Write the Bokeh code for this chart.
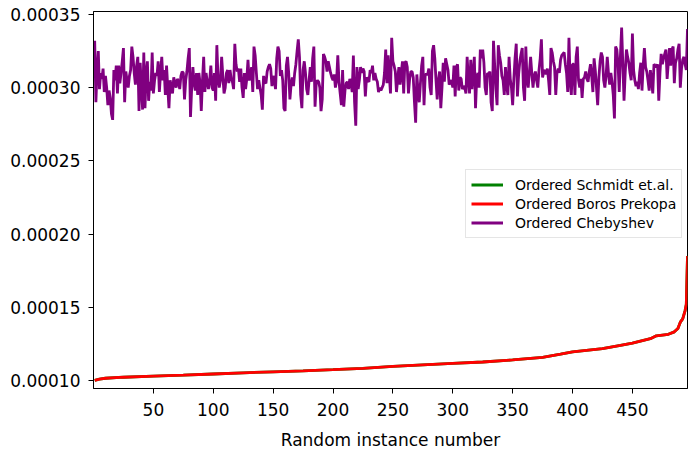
from bokeh.plotting import figure
from bokeh.models import Range1d, FixedTicker, PrintfTickFormatter, Legend, LegendItem
from bokeh.embed import file_html
from bokeh.resources import INLINE

# ---- data ----
# Chebyshev bound per random instance, in units of 1e-6
chebyshev_e6 = [
    332,290,312,325,299,310,306,313,297,308,300,288,298,293,282,278,312,305,315,296,
    315,303,310,318,327,290,311,305,300,308,312,328,321,310,302,315,321,284,317,300,
    285,324,286,310,318,291,304,298,324,296,305,310,308,318,297,310,321,305,312,295,
    315,300,286,305,301,296,307,303,300,306,304,299,308,311,310,292,305,311,320,327,
    280,300,314,303,298,310,295,310,303,284,305,321,297,310,304,299,305,315,300,298,
    310,291,329,306,300,305,321,308,296,300,310,312,303,312,306,304,299,330,316,311,
    313,304,313,300,293,310,299,306,319,305,307,314,297,328,322,310,299,305,300,295,
    285,308,304,303,311,314,316,313,301,308,305,299,320,328,325,308,312,305,286,284,
    315,321,310,292,302,307,301,310,316,325,333,321,295,286,312,318,310,299,295,305,
    314,304,320,328,287,303,305,304,300,284,292,323,321,318,311,318,314,310,307,305,
    309,300,305,322,304,296,288,312,287,298,303,304,299,306,303,297,322,290,274,314,
    299,305,314,310,313,311,294,307,305,304,312,310,315,305,310,306,304,297,300,298,
    300,302,310,326,303,322,308,296,334,318,315,311,297,306,314,302,310,318,296,317,
    318,314,296,306,311,311,307,290,276,309,298,290,303,315,321,288,309,309,309,313,
    300,295,325,329,320,305,292,305,311,286,300,317,304,320,316,312,302,304,305,300,
    315,294,314,316,298,307,306,299,301,300,296,321,306,296,319,299,310,321,286,307,
    310,300,326,320,326,317,300,295,310,309,311,290,284,332,315,299,288,329,322,317,
    308,305,295,314,301,295,321,306,300,288,306,320,330,294,309,318,323,327,300,291,
    328,305,300,311,321,310,300,308,311,305,300,312,320,333,307,311,312,309,313,305,
    295,327,324,318,314,295,310,313,310,319,322,323,324,316,310,297,334,305,295,316,
    316,295,321,328,305,300,306,293,306,307,311,306,304,311,316,308,297,320,312,300,
    288,307,318,324,321,305,300,308,321,310,302,310,304,295,279,328,326,316,297,322,
    341,316,291,310,326,321,317,310,305,337,312,305,301,304,299,310,317,298,315,327,
    314,311,305,298,312,305,296,316,315,314,316,291,310,323,316,320,323,326,306,317,
    327,315,326,328,303,317,320,326,330,300,313,319,321,316,312,340,
]
instances = list(range(1, len(chebyshev_e6) + 1))

# Ordered Boros-Prekopa bound (read at these instance numbers), units of 1e-6
ordered_instances = [1, 5, 10, 25, 50, 75, 100, 125, 150, 175, 200, 225, 250, 275,
                     300, 325, 350, 375, 390, 400, 425, 440, 450, 460, 465, 470,
                     480, 485, 488, 490, 492, 494, 495, 496]
boros_prekopa_e6 = [100.0, 100.9, 101.5, 102.2, 102.9, 103.6, 104.4, 105.2, 105.9,
                    106.6, 107.4, 108.3, 109.6, 110.6, 111.6, 112.6, 114.0, 115.8,
                    117.9, 119.5, 121.8, 124.0, 125.5, 127.5, 128.5, 130.5, 131.5,
                    133.2, 135.5, 139.8, 142.0, 147.7, 152.0, 185.0]
# Schmidt et.al. coincides with Boros-Prekopa (hidden beneath it)
schmidt_e6 = list(boros_prekopa_e6)

x_ticks = [50, 100, 150, 200, 250, 300, 350, 400, 450]
y_ticks = [0.00010, 0.00015, 0.00020, 0.00025, 0.00030, 0.00035]

scale = 1e-6
cheb = [v * scale for v in chebyshev_e6]
boros = [v * scale for v in boros_prekopa_e6]
schmidt = [v * scale for v in schmidt_e6]

FONT = "DejaVu Sans"

p = figure(width=688, height=457, output_backend="svg", toolbar_location=None,
           x_range=Range1d(0, 496), y_range=Range1d(0.0000945, 0.000352),
           min_border_left=93, min_border_right=1, min_border_top=11,
           min_border_bottom=69)

p.xgrid.visible = False
p.ygrid.visible = False
p.background_fill_color = "white"
p.border_fill_color = "white"
p.outline_line_color = "black"
p.outline_line_alpha = 1.0
p.outline_line_width = 1

r_s = p.line(ordered_instances, schmidt, line_color="#008000", line_width=2.8)
r_b = p.line(ordered_instances, boros, line_color="#ff0000", line_width=2.8)
r_c = p.line(instances, cheb, line_color="#800080", line_width=2.8)

for ax in (p.xaxis[0], p.yaxis[0]):
    ax.major_tick_out = 5
    ax.major_tick_in = 0
    ax.minor_tick_line_color = None
    ax.axis_line_color = "black"
    ax.major_tick_line_color = "black"
    ax.major_label_text_font = FONT
    ax.major_label_text_font_size = "17px"
    ax.major_label_text_color = "black"
    ax.axis_label_text_font = FONT
    ax.axis_label_text_font_size = "17px"
    ax.axis_label_text_font_style = "normal"
    ax.axis_label_text_color = "black"

p.xaxis.ticker = FixedTicker(ticks=x_ticks)
p.yaxis.ticker = FixedTicker(ticks=y_ticks)
p.yaxis.formatter = PrintfTickFormatter(format="%.5f")
p.xaxis.axis_label = "Random instance number"
p.xaxis.major_label_standoff = 9
p.xaxis.axis_label_standoff = 11
p.yaxis.major_label_standoff = 8

legend = Legend(items=[
    LegendItem(label="Ordered Schmidt et.al.", renderers=[r_s]),
    LegendItem(label="Ordered Boros Prekopa", renderers=[r_b]),
    LegendItem(label="Ordered Chebyshev", renderers=[r_c]),
], location=(372, 150))
legend.label_text_font = FONT
legend.label_text_font_size = "14px"
legend.label_text_color = "black"
legend.glyph_width = 32
legend.glyph_height = 19
legend.label_height = 19
legend.label_standoff = 12
legend.spacing = 0
legend.padding = 5
legend.margin = 0
legend.border_line_color = "#cccccc"
legend.border_line_width = 1
legend.background_fill_color = "white"
legend.background_fill_alpha = 0.9
p.add_layout(legend, "center")

open("out.html", "w").write(file_html(p, INLINE))
